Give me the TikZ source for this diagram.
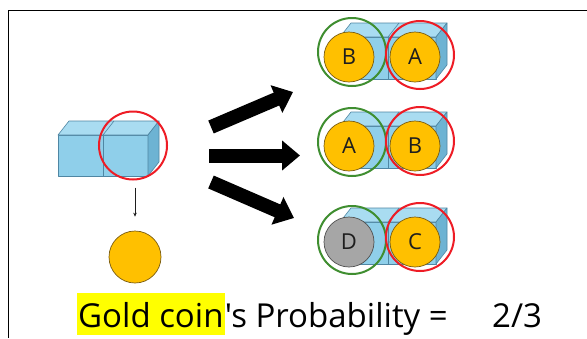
\documentclass[tikz,border=0pt]{standalone}
\usepackage{fontspec}
\newfontfamily\labelfont{Open Sans}[Ligatures=TeXOff]
\usetikzlibrary{arrows.meta}

\definecolor{cubefront}{HTML}{8FCFEA}
\definecolor{cubetop}{HTML}{A9DCF1}
\definecolor{cubeside}{HTML}{6DB3D3}
\definecolor{cubeedge}{HTML}{4F86A3}
\definecolor{gold}{HTML}{FFC000}
\definecolor{goldedge}{HTML}{7A5C10}
\definecolor{silver}{HTML}{A6A6A6}
\definecolor{silveredge}{HTML}{505050}
\definecolor{ringred}{HTML}{EE1C25}
\definecolor{ringgreen}{HTML}{3F8E30}
\definecolor{marker}{HTML}{FFFF00}
\definecolor{ink}{HTML}{1E1E1E}

\tikzset{
  frame/.style={draw=black, line width=1pt},
  cubeface/.style={draw=cubeedge, line width=0.6pt, line join=round},
  coin/.style={circle, fill=gold, draw=goldedge, line width=0.7pt,
    minimum size=50pt, inner sep=0pt, text=ink,
    font=\labelfont\fontsize{22}{22}\selectfont},
  greycoin/.style={coin, fill=silver, draw=silveredge},
  redring/.style={circle, draw=ringred, line width=2pt, minimum size=68pt, inner sep=0pt},
  greenring/.style={circle, draw=ringgreen, line width=2pt, minimum size=68pt, inner sep=0pt},
  bigarrow/.style={draw=black, line width=14pt,
    -{Triangle[width=29pt, length=18pt]}},
  smallarrow/.style={draw=ink, line width=0.7pt,
    -{Stealth[width=3.5pt, length=4pt]}},
  caption/.style={inner sep=0pt, text=black,
    font=\labelfont\fontsize{33}{33}\selectfont},
}

% two cubes side by side: left x, front top y, cube width, cube height
\newcommand\cubepair[4]{%
  \def\cubedx{11}\def\cubedy{14}%
  \filldraw[cubeface, fill=cubefront] (#1,#2) rectangle (#1+2*#3,#2+#4);
  \draw[cubeface] (#1+#3,#2) -- (#1+#3,#2+#4);
  \filldraw[cubeface, fill=cubetop] (#1,#2) -- (#1+\cubedx,#2-\cubedy)
    -- (#1+2*#3+\cubedx,#2-\cubedy) -- (#1+2*#3,#2) -- cycle;
  \draw[cubeface] (#1+#3,#2) -- (#1+#3+\cubedx,#2-\cubedy);
  \filldraw[cubeface, fill=cubeside] (#1+2*#3,#2) -- (#1+2*#3+\cubedx,#2-\cubedy)
    -- (#1+2*#3+\cubedx,#2+#4-\cubedy) -- (#1+2*#3,#2+#4) -- cycle;
}

\begin{document}
\begin{tikzpicture}[x=1pt, y=-1pt]
  \useasboundingbox[fill=white] (0,0) rectangle (587,338);
  \draw[frame] (8,338) -- (8,10) -- (587,10);

  % the box and the coin taken out of it
  \cubepair{58}{135}{45}{41}
  \node[redring] (pick) at (133,145.5) {};
  \node[coin, minimum size=52pt] (gold) at (135,257) {};
  \draw[smallarrow, shorten <=7pt, shorten >=14pt] (pick.south -| gold) -- (gold.north);

  % three possible boxes
  \cubepair{340}{37}{48}{42}
  \cubepair{340}{126}{48}{42}
  \cubepair{340}{222}{48}{42}

  \node[coin] (b1) at (349,57) {B};
  \node[coin] (a1) at (415,57) {A};
  \node[coin] (a2) at (349,146) {A};
  \node[coin] (b2) at (415,146) {B};
  \node[greycoin] (d3) at (349,242) {D};
  \node[coin] (c3) at (415,242) {C};

  \node[greenring] (g1) at (352,52) {};
  \node[redring] (r1) at (420,55) {};
  \node[greenring] (g2) at (352,142) {};
  \node[redring] (r2) at (420,141) {};
  \node[greenring] (g3) at (352,240) {};
  \node[redring] (r3) at (420,237) {};

  % branching arrows
  \coordinate (s1) at (211,127);  \coordinate (e1) at (293,92);
  \coordinate (s2) at (209,155.5);\coordinate (e2) at (300,155.5);
  \coordinate (s3) at (211,182);  \coordinate (e3) at (294,218);
  \draw[bigarrow] (s1) -- (e1);
  \draw[bigarrow] (s2) -- (e2);
  \draw[bigarrow] (s3) -- (e3);

  % probability line
  \node[caption, anchor=base west, fill=marker, inner xsep=1pt,
        text height=34pt, text depth=8pt] (hl) at (77,327) {Gold coin};
  \node[caption, anchor=base west] (rest) at (hl.base east) {'s Probability =};
  \node[caption, anchor=base west] (val) at (492,327) {2/3};
\end{tikzpicture}
\end{document}
